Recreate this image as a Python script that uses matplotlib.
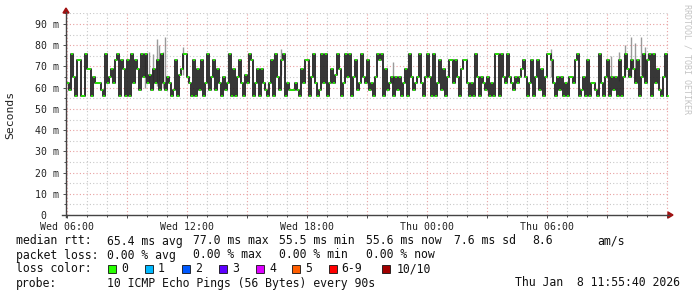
import matplotlib
matplotlib.use("Agg")
import matplotlib.pyplot as plt
from matplotlib.ticker import MultipleLocator, FuncFormatter
from matplotlib.lines import Line2D
from matplotlib.patches import Polygon, Rectangle

# %% data: median rtt (ms), one value every 6 minutes starting Wed 06:00
median_ms = [
    62, 59, 76, 65, 56, 73, 73, 56, 56, 76,
    69, 69, 56, 65, 62, 62, 62, 59, 56, 76,
    62, 65, 69, 62, 73, 76, 56, 73, 69, 56,
    73, 56, 76, 62, 73, 69, 59, 76, 65, 76,
    62, 66, 59, 69, 62, 73, 59, 76, 62, 59,
    65, 62, 56, 59, 73, 56, 66, 69, 76, 76,
    65, 62, 56, 73, 56, 69, 59, 73, 56, 62,
    76, 59, 65, 73, 59, 69, 62, 56, 65, 59,
    62, 76, 56, 69, 56, 65, 73, 62, 56, 66,
    62, 76, 73, 56, 62, 69, 56, 69, 62, 59,
    56, 62, 73, 56, 76, 65, 59, 73, 76, 56,
    62, 59, 59, 59, 62, 59, 56, 69, 62, 73,
    73, 56, 65, 76, 62, 56, 59, 76, 62, 76,
    56, 62, 69, 62, 66, 76, 69, 56, 62, 76,
    65, 76, 56, 65, 73, 59, 62, 76, 65, 62,
    73, 59, 62, 56, 65, 76, 73, 76, 56, 69,
    59, 62, 65, 56, 65, 59, 65, 56, 62, 69,
    56, 76, 65, 59, 62, 65, 76, 62, 56, 65,
    76, 65, 56, 76, 56, 62, 73, 59, 69, 56,
    65, 73, 73, 62, 73, 65, 56, 69, 73, 73,
    62, 56, 62, 56, 76, 65, 56, 65, 62, 59,
    65, 56, 62, 56, 76, 76, 56, 76, 65, 62,
    76, 65, 62, 59, 65, 62, 65, 69, 73, 65,
    56, 62, 73, 56, 65, 73, 59, 69, 56, 65,
    76, 76, 73, 62, 56, 65, 59, 65, 56, 62,
    56, 65, 65, 62, 73, 76, 56, 59, 65, 56,
    73, 56, 62, 62, 59, 56, 76, 62, 56, 65,
    73, 56, 65, 59, 65, 56, 73, 56, 65, 76,
    69, 65, 73, 69, 62, 73, 56, 65, 76, 62,
    73, 76, 56, 76, 62, 69, 59, 56, 65, 76, 56,
]
step_h = 0.1  # 6 minutes
hours = [i * step_h for i in range(len(median_ms))]

# smoke spikes (hours since Wed 06:00, low / high ms)
smoke_h = [3.9, 4.1, 4.3, 4.5, 4.6, 4.8, 4.9, 5.8, 10.7, 16.3, 24.2,
           27.2, 27.6, 27.9, 28.2, 28.4, 28.7, 28.9]
smoke_lo = [60, 62, 60, 61, 63, 60, 62, 66, 66, 62, 65,
            64, 63, 66, 65, 64, 66, 65]
smoke_hi = [75, 77, 76, 83, 80, 77, 84, 79, 78, 72, 78,
            75, 77, 80, 84, 81, 84, 79]

xtick_pos = [0, 6, 12, 18, 24]
xtick_labels = ["Wed 06:00", "Wed 12:00", "Wed 18:00", "Thu 00:00", "Thu 06:00"]

rtt_label = "median rtt:"
rtt_stats = ["65.4 ms avg", "77.0 ms max", "55.5 ms min", "55.6 ms now",
             "7.6 ms sd", "8.6", "am/s"]
loss_label = "packet loss:"
loss_stats = ["0.00 % avg", "0.00 % max", "0.00 % min", "0.00 % now"]
color_label = "loss color:"
loss_names = ["0", "1", "2", "3", "4", "5", "6-9", "10/10"]
loss_colors = ["#26ff00", "#00b8ff", "#0059ff", "#5e00ff",
               "#dd00ff", "#ff5e00", "#ff0000", "#a10000"]
probe_label = "probe:"
probe_text = "10 ICMP Echo Pings (56 Bytes) every 90s"
stamp = "Thu Jan  8 11:55:40 2026"

# %% figure
W, H = 697, 297
fig = plt.figure(figsize=(W / 100, H / 100), dpi=100)
fig.patch.set_facecolor("white")

def fx(px):
    return px / W

def fy(py):
    return 1 - py / H

x0, x1, y0, y1 = 66, 669, 215, 13.4
ax = fig.add_axes([fx(x0), fy(y0), fx(x1) - fx(x0), fy(y1) - fy(y0)])
ax.set_xlim(-0.05, 30.1)
ax.set_ylim(0, 95)
for s in ax.spines.values():
    s.set_visible(False)

mono = "DejaVu Sans Mono"
ax.yaxis.set_major_locator(MultipleLocator(10))
ax.yaxis.set_minor_locator(MultipleLocator(5))
ax.yaxis.set_major_formatter(FuncFormatter(lambda v, p: "0  " if v == 0 else "%d m" % v))
ax.xaxis.set_major_locator(MultipleLocator(3))
ax.xaxis.set_minor_locator(MultipleLocator(1))
labmap = dict(zip(xtick_pos, xtick_labels))
ax.xaxis.set_major_formatter(FuncFormatter(lambda v, p: labmap.get(int(round(v)), "")))
ax.tick_params(which="major", length=2.5, width=0.6, color="#333333", pad=2.2,
               labelsize=7.1, labelcolor="#222222")
ax.tick_params(which="minor", length=1.5, width=0.6, color="#333333")
for lab in ax.get_xticklabels() + ax.get_yticklabels():
    lab.set_family(mono)

ax.grid(which="major", color="#e8a0a0", linestyle=(0, (1, 2)), linewidth=0.8)
ax.grid(which="minor", color="#c8c8c8", linestyle=(0, (1, 2)), linewidth=0.8)
ax.set_axisbelow(True)

# smoke
ax.vlines(smoke_h, smoke_lo, smoke_hi, color="#9a9a9a", linewidth=1.0, zorder=2)
# median line (black transitions, green loss colour on the levels)
ax.step(hours, median_ms, where="post", color="#222222", linewidth=1.3, zorder=3)
ax.hlines(median_ms, hours, [h + step_h for h in hours], color=loss_colors[0],
          linewidth=1.2, zorder=4)

# axes with arrows
axis_c = "#444444"
arrow_c = "#a01010"
fig.add_artist(Line2D([fx(66), fx(66)], [fy(217), fy(12)], color=axis_c, lw=1.0))
fig.add_artist(Line2D([fx(62), fx(669)], [fy(215), fy(215)], color=axis_c, lw=1.0))
fig.add_artist(Polygon([(fx(63), fy(13)), (fx(69), fy(13)), (fx(66), fy(8))],
                       closed=True, color=arrow_c))
fig.add_artist(Polygon([(fx(668), fy(212)), (fx(668), fy(218)), (fx(673), fy(215))],
                       closed=True, color=arrow_c))

fig.text(fx(10), fy(115), "Seconds", rotation=90, ha="center", va="center",
         family=mono, size=8.2, color="#222222")
fig.text(fx(687), fy(4), "RRDTOOL / TOBI OETIKER", rotation=-90, ha="center",
         va="top", family=mono, size=6, color="#c4c4c4")

# legend lines
ts = dict(family=mono, size=8.3, color="#111111", va="center", ha="left")
fig.text(fx(16), fy(241), rtt_label, **ts)
for s, px in zip(rtt_stats, [107, 193, 279, 366, 454, 532, 597]):
    fig.text(fx(px), fy(241), s, **ts)
fig.text(fx(16), fy(255), loss_label, **ts)
for s, px in zip(loss_stats, [107, 193, 279, 366]):
    fig.text(fx(px), fy(255), s, **ts)
fig.text(fx(16), fy(269), color_label, **ts)
sq_x = [108, 145, 182, 219, 256, 292, 329, 382]
lab_dx = [13, 13, 13, 13, 13, 13, 12, 15]
for name, c, px, dx in zip(loss_names, loss_colors, sq_x, lab_dx):
    fig.add_artist(Rectangle((fx(px), fy(272.5)), fx(7.5), 7.5 / H, facecolor=c,
                             edgecolor="#111111", linewidth=0.6))
    fig.text(fx(px + dx), fy(269), name, **ts)
fig.text(fx(16), fy(283), probe_label, **ts)
fig.text(fx(107), fy(283), probe_text, **ts)
ts_r = dict(ts, ha="right")
fig.text(fx(680), fy(283), stamp, **ts_r)

fig.savefig("out.png", dpi=100, facecolor="white")
